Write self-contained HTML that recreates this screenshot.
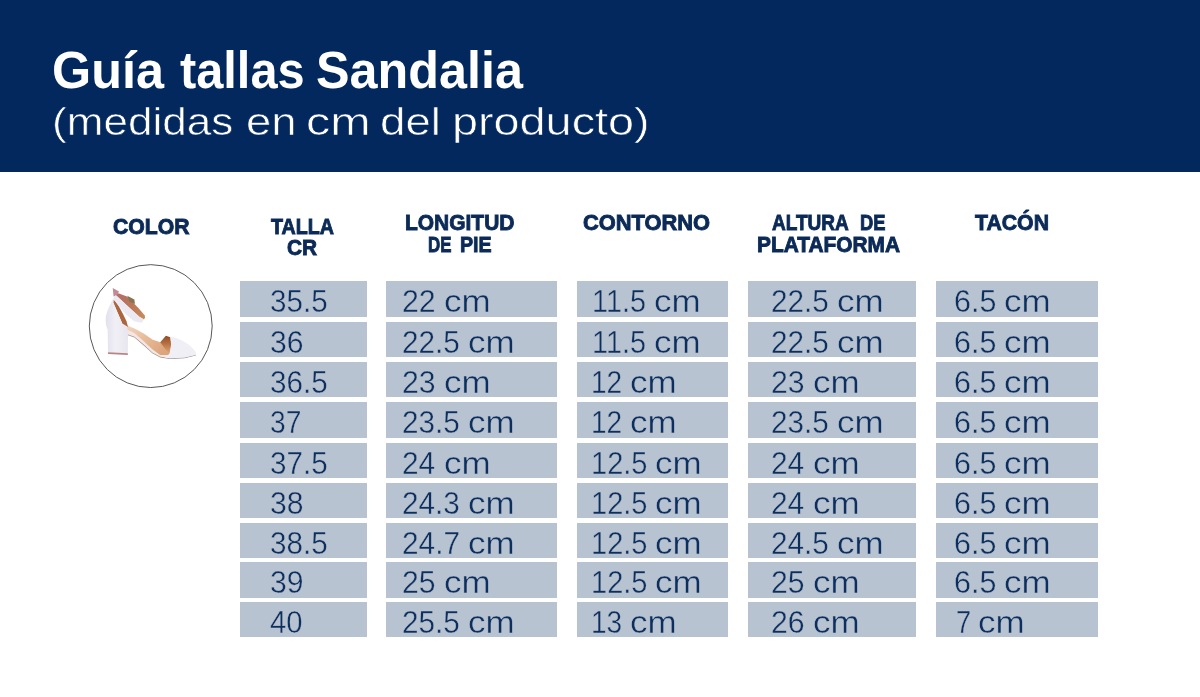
<!DOCTYPE html>
<html><head><meta charset="utf-8"><title>Guía tallas Sandalia</title>
<style>
html,body{margin:0;padding:0;}
body{width:1200px;height:697px;position:relative;overflow:hidden;background:#fff;font-family:"Liberation Sans",sans-serif;}
.banner{position:absolute;left:0;top:0;width:1200px;height:171.6px;background:#03285d;}
.t{position:absolute;white-space:pre;line-height:1;transform-origin:0 0;display:block;}
.c{position:absolute;height:35.6px;background:#b8c3d2;}
svg.shoe{position:absolute;left:0;top:0;}
</style></head><body>
<div class="banner"></div>
<div class="c" style="left:240.2px;top:281.3px;width:126.8px"></div>
<div class="c" style="left:386px;top:281.3px;width:171.2px"></div>
<div class="c" style="left:577px;top:281.3px;width:151.3px"></div>
<div class="c" style="left:747.8px;top:281.3px;width:168.2px"></div>
<div class="c" style="left:935.8px;top:281.3px;width:162.2px"></div>
<div class="c" style="left:240.2px;top:321.8px;width:126.8px"></div>
<div class="c" style="left:386px;top:321.8px;width:171.2px"></div>
<div class="c" style="left:577px;top:321.8px;width:151.3px"></div>
<div class="c" style="left:747.8px;top:321.8px;width:168.2px"></div>
<div class="c" style="left:935.8px;top:321.8px;width:162.2px"></div>
<div class="c" style="left:240.2px;top:361.8px;width:126.8px"></div>
<div class="c" style="left:386px;top:361.8px;width:171.2px"></div>
<div class="c" style="left:577px;top:361.8px;width:151.3px"></div>
<div class="c" style="left:747.8px;top:361.8px;width:168.2px"></div>
<div class="c" style="left:935.8px;top:361.8px;width:162.2px"></div>
<div class="c" style="left:240.2px;top:402.0px;width:126.8px"></div>
<div class="c" style="left:386px;top:402.0px;width:171.2px"></div>
<div class="c" style="left:577px;top:402.0px;width:151.3px"></div>
<div class="c" style="left:747.8px;top:402.0px;width:168.2px"></div>
<div class="c" style="left:935.8px;top:402.0px;width:162.2px"></div>
<div class="c" style="left:240.2px;top:442.9px;width:126.8px"></div>
<div class="c" style="left:386px;top:442.9px;width:171.2px"></div>
<div class="c" style="left:577px;top:442.9px;width:151.3px"></div>
<div class="c" style="left:747.8px;top:442.9px;width:168.2px"></div>
<div class="c" style="left:935.8px;top:442.9px;width:162.2px"></div>
<div class="c" style="left:240.2px;top:482.9px;width:126.8px"></div>
<div class="c" style="left:386px;top:482.9px;width:171.2px"></div>
<div class="c" style="left:577px;top:482.9px;width:151.3px"></div>
<div class="c" style="left:747.8px;top:482.9px;width:168.2px"></div>
<div class="c" style="left:935.8px;top:482.9px;width:162.2px"></div>
<div class="c" style="left:240.2px;top:522.9px;width:126.8px"></div>
<div class="c" style="left:386px;top:522.9px;width:171.2px"></div>
<div class="c" style="left:577px;top:522.9px;width:151.3px"></div>
<div class="c" style="left:747.8px;top:522.9px;width:168.2px"></div>
<div class="c" style="left:935.8px;top:522.9px;width:162.2px"></div>
<div class="c" style="left:240.2px;top:562.1px;width:126.8px"></div>
<div class="c" style="left:386px;top:562.1px;width:171.2px"></div>
<div class="c" style="left:577px;top:562.1px;width:151.3px"></div>
<div class="c" style="left:747.8px;top:562.1px;width:168.2px"></div>
<div class="c" style="left:935.8px;top:562.1px;width:162.2px"></div>
<div class="c" style="left:240.2px;top:601.9px;width:126.8px"></div>
<div class="c" style="left:386px;top:601.9px;width:171.2px"></div>
<div class="c" style="left:577px;top:601.9px;width:151.3px"></div>
<div class="c" style="left:747.8px;top:601.9px;width:168.2px"></div>
<div class="c" style="left:935.8px;top:601.9px;width:162.2px"></div>
<svg class="shoe" width="1200" height="697" viewBox="0 0 1200 697">
<defs>
<filter id="bl" x="-5%" y="-5%" width="110%" height="110%"><feGaussianBlur stdDeviation="0.6"/></filter>
<linearGradient id="gh" x1="0" y1="0" x2="1" y2="0"><stop offset="0" stop-color="#e2e1ec"/><stop offset="0.45" stop-color="#f1f0f6"/><stop offset="1" stop-color="#e7e6ef"/></linearGradient>
<linearGradient id="gi" x1="0" y1="0" x2="1" y2="0.6"><stop offset="0" stop-color="#f2d8c3"/><stop offset="0.6" stop-color="#e6b793"/><stop offset="1" stop-color="#dca57c"/></linearGradient>
<linearGradient id="gs" x1="0" y1="0" x2="0" y2="1"><stop offset="0" stop-color="#8f4a22"/><stop offset="0.55" stop-color="#c07c4e"/><stop offset="1" stop-color="#e0aa84"/></linearGradient>
<linearGradient id="gf" x1="0" y1="0" x2="1" y2="1"><stop offset="0" stop-color="#b46c6c"/><stop offset="0.5" stop-color="#ba7758"/><stop offset="1" stop-color="#c98d5c"/></linearGradient>
</defs>
<circle cx="150.75" cy="326.1" r="61.45" fill="#fff" stroke="#585858" stroke-width="1"/>
<g filter="url(#bl)">
  <!-- sole (pale) with thin dark underside -->
  <path d="M126.5,326 L134.4,330 L143.7,336 L152.3,343 L160.2,349 L170,354 L184.6,356 L195.6,354 L195.8,355.6 L184.6,358.3 L170.2,359.1 L160.2,357.6 L152.3,353.3 L143.7,345.4 L134.4,337.5 L126.5,334.7 Z" fill="#9c8f90"/>
  <path d="M126.5,326 L134.4,330 L143.7,336 L152.3,343 L160.2,349 L170,354 L184.6,356 L195.6,354 L195.5,354.9 L184.6,357.5 L170.2,358.3 L160.2,356.8 L152.3,352.5 L143.7,344.6 L134.4,336.7 L126.5,333.9 Z" fill="#f4e6e2"/>
  <!-- insole tan -->
  <path d="M124.3,324.3 L134.4,328.6 L143.7,333.6 L152.3,339.4 L160.2,342.3 L166,340 L171,346 L169.5,355 L160.2,355 L152.3,349.2 L143.7,341.3 L134.4,332.9 L126.5,329.5 Z" fill="url(#gi)"/>
  <!-- lining of counter -->
  <path d="M113.6,299.5 L115.2,301 L118.8,306.3 L123,314 L126.5,321.2 L128,327 L124,325.5 L122.4,323.8 L113.2,302.4 Z" fill="#ad653d"/>
  <!-- toe opening shadow -->
  <path d="M160.2,342.3 L165.9,335.8 L170.4,337.2 L171.2,343.7 L169.7,353.9 L166,350 Z" fill="url(#gs)"/>
  <!-- counter + heel block -->
  <path d="M113.6,297 C111.5,302 107,310 105.8,317.2 C105.4,322 106,326 107.7,329.8 L108,352.8 L127.8,353.8 L128,334.6 L127.2,326.5 L124,324.5 L122.4,323.8 L118,313.5 L113.4,302.4 Z" fill="url(#gh)"/>
  <!-- heel tip -->
  <path d="M108,352.3 L127.8,353.3 L127.8,354.9 L108.1,354.1 Z" fill="#b98584"/>
  <!-- toe strap -->
  <path d="M170.2,336.7 L173,336.9 C178,338 184,341 188.5,344.5 C192.5,347.8 195.5,351 196.4,353.4 L195.9,354.8 L184.6,357.4 L170.2,358.2 L164.5,357.5 L169.5,353.7 L171.2,345 Z" fill="#f0eff6"/>
  <!-- pink tip of ankle strap -->
  <path d="M112.7,288 L119,291.4 L117,295.2 L113.6,296.6 Z" fill="#c48a92"/>
  <!-- far side inner face (brown) -->
  <path d="M118.3,293.3 L127,296.4 L131,300.4 L138.6,308.2 L144.6,315.3 L145.1,317.6 L144,319.4 L139.3,316.8 L127,305.6 L116,295.3 Z" fill="url(#gf)"/>
  <!-- near side white band -->
  <path d="M116,295.3 L127,305.6 L139.3,316.8 L144,319.4 L141.6,322.8 L134.1,321.3 L125,313.5 L114,300 L113.7,296.6 Z" fill="#ebe9f2"/>
  <!-- buckle -->
  <path d="M127.2,295.8 L134.4,299.6 L134.9,303.9 L129.4,301.4 Z" fill="#857650"/>
</g>
</svg>

<span class="t" style="left:51.65px;top:45px;font-size:51.5px;transform:scaleX(0.9773);color:#fff;font-weight:700;">Guía</span>
<span class="t" style="left:180.21px;top:45px;font-size:51.5px;transform:scaleX(0.9460);color:#fff;font-weight:700;">tallas</span>
<span class="t" style="left:316.22px;top:45px;font-size:51.5px;transform:scaleX(0.9767);color:#fff;font-weight:700;">Sandalia</span>
<span class="t" style="left:52.00px;top:103px;font-size:38.4px;transform:scaleX(1.1487);color:#fff;-webkit-text-stroke:0.6px #03285d;">(medidas</span>
<span class="t" style="left:245.53px;top:103px;font-size:38.4px;transform:scaleX(1.1869);color:#fff;-webkit-text-stroke:0.6px #03285d;">en</span>
<span class="t" style="left:305.81px;top:103px;font-size:38.4px;transform:scaleX(1.2614);color:#fff;-webkit-text-stroke:0.6px #03285d;">cm</span>
<span class="t" style="left:380.04px;top:103px;font-size:38.4px;transform:scaleX(1.1887);color:#fff;-webkit-text-stroke:0.6px #03285d;">del</span>
<span class="t" style="left:451.92px;top:103px;font-size:38.4px;transform:scaleX(1.2184);color:#fff;-webkit-text-stroke:0.6px #03285d;">producto)</span>
<span class="t" style="left:112.54px;top:216px;font-size:22.0px;transform:scaleX(0.9641);color:#0b2a57;font-weight:700;-webkit-text-stroke:0.9px #0b2a57;">COLOR</span>
<span class="t" style="left:271.22px;top:216px;font-size:22.0px;transform:scaleX(0.8934);color:#0b2a57;font-weight:700;-webkit-text-stroke:0.9px #0b2a57;">TALLA</span>
<span class="t" style="left:287.05px;top:237px;font-size:22.0px;transform:scaleX(0.9485);color:#0b2a57;font-weight:700;-webkit-text-stroke:0.9px #0b2a57;">CR</span>
<span class="t" style="left:404.74px;top:212px;font-size:22.0px;transform:scaleX(0.9523);color:#0b2a57;font-weight:700;-webkit-text-stroke:0.9px #0b2a57;">LONGITUD</span>
<span class="t" style="left:427.61px;top:234px;font-size:22.0px;transform:scaleX(0.7666);color:#0b2a57;font-weight:700;-webkit-text-stroke:0.9px #0b2a57;">DE</span>
<span class="t" style="left:459.99px;top:234px;font-size:22.0px;transform:scaleX(0.8926);color:#0b2a57;font-weight:700;-webkit-text-stroke:0.9px #0b2a57;">PIE</span>
<span class="t" style="left:583.03px;top:212px;font-size:22.0px;transform:scaleX(0.9927);color:#0b2a57;font-weight:700;-webkit-text-stroke:0.9px #0b2a57;">CONTORNO</span>
<span class="t" style="left:771.76px;top:212px;font-size:22.0px;transform:scaleX(0.8650);color:#0b2a57;font-weight:700;-webkit-text-stroke:0.9px #0b2a57;">ALTURA</span>
<span class="t" style="left:859.64px;top:212px;font-size:22.0px;transform:scaleX(0.8344);color:#0b2a57;font-weight:700;-webkit-text-stroke:0.9px #0b2a57;">DE</span>
<span class="t" style="left:756.74px;top:234px;font-size:22.0px;transform:scaleX(0.9487);color:#0b2a57;font-weight:700;-webkit-text-stroke:0.9px #0b2a57;">PLATAFORMA</span>
<span class="t" style="left:974.84px;top:212px;font-size:22.0px;transform:scaleX(0.9660);color:#0b2a57;font-weight:700;-webkit-text-stroke:0.9px #0b2a57;">TACÓN</span>
<span class="t" style="left:270.40px;top:287px;font-size:30.8px;transform:scaleX(0.9620);color:#0d2f5d;-webkit-text-stroke:0.4px #b8c3d2;">35.5</span>
<span class="t" style="left:270.37px;top:328px;font-size:30.8px;transform:scaleX(0.9774);color:#0d2f5d;-webkit-text-stroke:0.4px #b8c3d2;">36</span>
<span class="t" style="left:270.40px;top:368px;font-size:30.8px;transform:scaleX(0.9620);color:#0d2f5d;-webkit-text-stroke:0.4px #b8c3d2;">36.5</span>
<span class="t" style="left:270.46px;top:408px;font-size:30.8px;transform:scaleX(0.9165);color:#0d2f5d;-webkit-text-stroke:0.4px #b8c3d2;">37</span>
<span class="t" style="left:270.40px;top:449px;font-size:30.8px;transform:scaleX(0.9620);color:#0d2f5d;-webkit-text-stroke:0.4px #b8c3d2;">37.5</span>
<span class="t" style="left:270.37px;top:489px;font-size:30.8px;transform:scaleX(0.9771);color:#0d2f5d;-webkit-text-stroke:0.4px #b8c3d2;">38</span>
<span class="t" style="left:270.40px;top:529px;font-size:30.8px;transform:scaleX(0.9620);color:#0d2f5d;-webkit-text-stroke:0.4px #b8c3d2;">38.5</span>
<span class="t" style="left:270.37px;top:568px;font-size:30.8px;transform:scaleX(0.9791);color:#0d2f5d;-webkit-text-stroke:0.4px #b8c3d2;">39</span>
<span class="t" style="left:270.32px;top:608px;font-size:30.8px;transform:scaleX(0.9521);color:#0d2f5d;-webkit-text-stroke:0.4px #b8c3d2;">40</span>
<span class="t" style="left:402.25px;top:287px;font-size:30.8px;transform:scaleX(0.9833);color:#0d2f5d;-webkit-text-stroke:0.4px #b8c3d2;">22</span>
<span class="t" style="left:443.64px;top:287px;font-size:30.8px;transform:scaleX(1.1352);color:#0d2f5d;-webkit-text-stroke:0.4px #b8c3d2;">cm</span>
<span class="t" style="left:402.28px;top:328px;font-size:30.8px;transform:scaleX(0.9640);color:#0d2f5d;-webkit-text-stroke:0.4px #b8c3d2;">22.5</span>
<span class="t" style="left:467.64px;top:328px;font-size:30.8px;transform:scaleX(1.1352);color:#0d2f5d;-webkit-text-stroke:0.4px #b8c3d2;">cm</span>
<span class="t" style="left:402.25px;top:368px;font-size:30.8px;transform:scaleX(0.9816);color:#0d2f5d;-webkit-text-stroke:0.4px #b8c3d2;">23</span>
<span class="t" style="left:443.64px;top:368px;font-size:30.8px;transform:scaleX(1.1352);color:#0d2f5d;-webkit-text-stroke:0.4px #b8c3d2;">cm</span>
<span class="t" style="left:402.28px;top:408px;font-size:30.8px;transform:scaleX(0.9640);color:#0d2f5d;-webkit-text-stroke:0.4px #b8c3d2;">23.5</span>
<span class="t" style="left:467.64px;top:408px;font-size:30.8px;transform:scaleX(1.1352);color:#0d2f5d;-webkit-text-stroke:0.4px #b8c3d2;">cm</span>
<span class="t" style="left:402.27px;top:449px;font-size:30.8px;transform:scaleX(0.9698);color:#0d2f5d;-webkit-text-stroke:0.4px #b8c3d2;">24</span>
<span class="t" style="left:443.64px;top:449px;font-size:30.8px;transform:scaleX(1.1352);color:#0d2f5d;-webkit-text-stroke:0.4px #b8c3d2;">cm</span>
<span class="t" style="left:402.28px;top:489px;font-size:30.8px;transform:scaleX(0.9648);color:#0d2f5d;-webkit-text-stroke:0.4px #b8c3d2;">24.3</span>
<span class="t" style="left:467.64px;top:489px;font-size:30.8px;transform:scaleX(1.1352);color:#0d2f5d;-webkit-text-stroke:0.4px #b8c3d2;">cm</span>
<span class="t" style="left:402.27px;top:529px;font-size:30.8px;transform:scaleX(0.9675);color:#0d2f5d;-webkit-text-stroke:0.4px #b8c3d2;">24.7</span>
<span class="t" style="left:467.64px;top:529px;font-size:30.8px;transform:scaleX(1.1352);color:#0d2f5d;-webkit-text-stroke:0.4px #b8c3d2;">cm</span>
<span class="t" style="left:402.26px;top:568px;font-size:30.8px;transform:scaleX(0.9798);color:#0d2f5d;-webkit-text-stroke:0.4px #b8c3d2;">25</span>
<span class="t" style="left:443.64px;top:568px;font-size:30.8px;transform:scaleX(1.1352);color:#0d2f5d;-webkit-text-stroke:0.4px #b8c3d2;">cm</span>
<span class="t" style="left:402.28px;top:608px;font-size:30.8px;transform:scaleX(0.9640);color:#0d2f5d;-webkit-text-stroke:0.4px #b8c3d2;">25.5</span>
<span class="t" style="left:467.64px;top:608px;font-size:30.8px;transform:scaleX(1.1352);color:#0d2f5d;-webkit-text-stroke:0.4px #b8c3d2;">cm</span>
<span class="t" style="left:592.27px;top:287px;font-size:30.8px;transform:scaleX(0.9351);color:#0d2f5d;-webkit-text-stroke:0.4px #b8c3d2;">11.5</span>
<span class="t" style="left:653.84px;top:287px;font-size:30.8px;transform:scaleX(1.1352);color:#0d2f5d;-webkit-text-stroke:0.4px #b8c3d2;">cm</span>
<span class="t" style="left:592.27px;top:328px;font-size:30.8px;transform:scaleX(0.9351);color:#0d2f5d;-webkit-text-stroke:0.4px #b8c3d2;">11.5</span>
<span class="t" style="left:653.84px;top:328px;font-size:30.8px;transform:scaleX(1.1352);color:#0d2f5d;-webkit-text-stroke:0.4px #b8c3d2;">cm</span>
<span class="t" style="left:591.42px;top:368px;font-size:30.8px;transform:scaleX(0.9116);color:#0d2f5d;-webkit-text-stroke:0.4px #b8c3d2;">12</span>
<span class="t" style="left:630.44px;top:368px;font-size:30.8px;transform:scaleX(1.1352);color:#0d2f5d;-webkit-text-stroke:0.4px #b8c3d2;">cm</span>
<span class="t" style="left:591.42px;top:408px;font-size:30.8px;transform:scaleX(0.9116);color:#0d2f5d;-webkit-text-stroke:0.4px #b8c3d2;">12</span>
<span class="t" style="left:630.44px;top:408px;font-size:30.8px;transform:scaleX(1.1352);color:#0d2f5d;-webkit-text-stroke:0.4px #b8c3d2;">cm</span>
<span class="t" style="left:591.35px;top:449px;font-size:30.8px;transform:scaleX(0.9423);color:#0d2f5d;-webkit-text-stroke:0.4px #b8c3d2;">12.5</span>
<span class="t" style="left:655.44px;top:449px;font-size:30.8px;transform:scaleX(1.1352);color:#0d2f5d;-webkit-text-stroke:0.4px #b8c3d2;">cm</span>
<span class="t" style="left:591.35px;top:489px;font-size:30.8px;transform:scaleX(0.9423);color:#0d2f5d;-webkit-text-stroke:0.4px #b8c3d2;">12.5</span>
<span class="t" style="left:655.44px;top:489px;font-size:30.8px;transform:scaleX(1.1352);color:#0d2f5d;-webkit-text-stroke:0.4px #b8c3d2;">cm</span>
<span class="t" style="left:591.35px;top:529px;font-size:30.8px;transform:scaleX(0.9423);color:#0d2f5d;-webkit-text-stroke:0.4px #b8c3d2;">12.5</span>
<span class="t" style="left:655.44px;top:529px;font-size:30.8px;transform:scaleX(1.1352);color:#0d2f5d;-webkit-text-stroke:0.4px #b8c3d2;">cm</span>
<span class="t" style="left:591.35px;top:568px;font-size:30.8px;transform:scaleX(0.9423);color:#0d2f5d;-webkit-text-stroke:0.4px #b8c3d2;">12.5</span>
<span class="t" style="left:655.44px;top:568px;font-size:30.8px;transform:scaleX(1.1352);color:#0d2f5d;-webkit-text-stroke:0.4px #b8c3d2;">cm</span>
<span class="t" style="left:591.43px;top:608px;font-size:30.8px;transform:scaleX(0.9100);color:#0d2f5d;-webkit-text-stroke:0.4px #b8c3d2;">13</span>
<span class="t" style="left:630.44px;top:608px;font-size:30.8px;transform:scaleX(1.1352);color:#0d2f5d;-webkit-text-stroke:0.4px #b8c3d2;">cm</span>
<span class="t" style="left:771.48px;top:287px;font-size:30.8px;transform:scaleX(0.9640);color:#0d2f5d;-webkit-text-stroke:0.4px #b8c3d2;">22.5</span>
<span class="t" style="left:836.84px;top:287px;font-size:30.8px;transform:scaleX(1.1352);color:#0d2f5d;-webkit-text-stroke:0.4px #b8c3d2;">cm</span>
<span class="t" style="left:771.48px;top:328px;font-size:30.8px;transform:scaleX(0.9640);color:#0d2f5d;-webkit-text-stroke:0.4px #b8c3d2;">22.5</span>
<span class="t" style="left:836.84px;top:328px;font-size:30.8px;transform:scaleX(1.1352);color:#0d2f5d;-webkit-text-stroke:0.4px #b8c3d2;">cm</span>
<span class="t" style="left:771.45px;top:368px;font-size:30.8px;transform:scaleX(0.9816);color:#0d2f5d;-webkit-text-stroke:0.4px #b8c3d2;">23</span>
<span class="t" style="left:812.84px;top:368px;font-size:30.8px;transform:scaleX(1.1352);color:#0d2f5d;-webkit-text-stroke:0.4px #b8c3d2;">cm</span>
<span class="t" style="left:771.48px;top:408px;font-size:30.8px;transform:scaleX(0.9640);color:#0d2f5d;-webkit-text-stroke:0.4px #b8c3d2;">23.5</span>
<span class="t" style="left:836.84px;top:408px;font-size:30.8px;transform:scaleX(1.1352);color:#0d2f5d;-webkit-text-stroke:0.4px #b8c3d2;">cm</span>
<span class="t" style="left:771.47px;top:449px;font-size:30.8px;transform:scaleX(0.9698);color:#0d2f5d;-webkit-text-stroke:0.4px #b8c3d2;">24</span>
<span class="t" style="left:812.84px;top:449px;font-size:30.8px;transform:scaleX(1.1352);color:#0d2f5d;-webkit-text-stroke:0.4px #b8c3d2;">cm</span>
<span class="t" style="left:771.47px;top:489px;font-size:30.8px;transform:scaleX(0.9698);color:#0d2f5d;-webkit-text-stroke:0.4px #b8c3d2;">24</span>
<span class="t" style="left:812.84px;top:489px;font-size:30.8px;transform:scaleX(1.1352);color:#0d2f5d;-webkit-text-stroke:0.4px #b8c3d2;">cm</span>
<span class="t" style="left:771.48px;top:529px;font-size:30.8px;transform:scaleX(0.9640);color:#0d2f5d;-webkit-text-stroke:0.4px #b8c3d2;">24.5</span>
<span class="t" style="left:836.84px;top:529px;font-size:30.8px;transform:scaleX(1.1352);color:#0d2f5d;-webkit-text-stroke:0.4px #b8c3d2;">cm</span>
<span class="t" style="left:771.46px;top:568px;font-size:30.8px;transform:scaleX(0.9798);color:#0d2f5d;-webkit-text-stroke:0.4px #b8c3d2;">25</span>
<span class="t" style="left:812.84px;top:568px;font-size:30.8px;transform:scaleX(1.1352);color:#0d2f5d;-webkit-text-stroke:0.4px #b8c3d2;">cm</span>
<span class="t" style="left:771.45px;top:608px;font-size:30.8px;transform:scaleX(0.9810);color:#0d2f5d;-webkit-text-stroke:0.4px #b8c3d2;">26</span>
<span class="t" style="left:812.84px;top:608px;font-size:30.8px;transform:scaleX(1.1352);color:#0d2f5d;-webkit-text-stroke:0.4px #b8c3d2;">cm</span>
<span class="t" style="left:953.71px;top:287px;font-size:30.8px;transform:scaleX(0.9894);color:#0d2f5d;-webkit-text-stroke:0.4px #b8c3d2;">6.5</span>
<span class="t" style="left:1003.74px;top:287px;font-size:30.8px;transform:scaleX(1.1352);color:#0d2f5d;-webkit-text-stroke:0.4px #b8c3d2;">cm</span>
<span class="t" style="left:953.71px;top:328px;font-size:30.8px;transform:scaleX(0.9894);color:#0d2f5d;-webkit-text-stroke:0.4px #b8c3d2;">6.5</span>
<span class="t" style="left:1003.74px;top:328px;font-size:30.8px;transform:scaleX(1.1352);color:#0d2f5d;-webkit-text-stroke:0.4px #b8c3d2;">cm</span>
<span class="t" style="left:953.71px;top:368px;font-size:30.8px;transform:scaleX(0.9894);color:#0d2f5d;-webkit-text-stroke:0.4px #b8c3d2;">6.5</span>
<span class="t" style="left:1003.74px;top:368px;font-size:30.8px;transform:scaleX(1.1352);color:#0d2f5d;-webkit-text-stroke:0.4px #b8c3d2;">cm</span>
<span class="t" style="left:953.71px;top:408px;font-size:30.8px;transform:scaleX(0.9894);color:#0d2f5d;-webkit-text-stroke:0.4px #b8c3d2;">6.5</span>
<span class="t" style="left:1003.74px;top:408px;font-size:30.8px;transform:scaleX(1.1352);color:#0d2f5d;-webkit-text-stroke:0.4px #b8c3d2;">cm</span>
<span class="t" style="left:953.71px;top:449px;font-size:30.8px;transform:scaleX(0.9894);color:#0d2f5d;-webkit-text-stroke:0.4px #b8c3d2;">6.5</span>
<span class="t" style="left:1003.74px;top:449px;font-size:30.8px;transform:scaleX(1.1352);color:#0d2f5d;-webkit-text-stroke:0.4px #b8c3d2;">cm</span>
<span class="t" style="left:953.71px;top:489px;font-size:30.8px;transform:scaleX(0.9894);color:#0d2f5d;-webkit-text-stroke:0.4px #b8c3d2;">6.5</span>
<span class="t" style="left:1003.74px;top:489px;font-size:30.8px;transform:scaleX(1.1352);color:#0d2f5d;-webkit-text-stroke:0.4px #b8c3d2;">cm</span>
<span class="t" style="left:953.71px;top:529px;font-size:30.8px;transform:scaleX(0.9894);color:#0d2f5d;-webkit-text-stroke:0.4px #b8c3d2;">6.5</span>
<span class="t" style="left:1003.74px;top:529px;font-size:30.8px;transform:scaleX(1.1352);color:#0d2f5d;-webkit-text-stroke:0.4px #b8c3d2;">cm</span>
<span class="t" style="left:953.71px;top:568px;font-size:30.8px;transform:scaleX(0.9894);color:#0d2f5d;-webkit-text-stroke:0.4px #b8c3d2;">6.5</span>
<span class="t" style="left:1003.74px;top:568px;font-size:30.8px;transform:scaleX(1.1352);color:#0d2f5d;-webkit-text-stroke:0.4px #b8c3d2;">cm</span>
<span class="t" style="left:955.58px;top:608px;font-size:30.8px;transform:scaleX(0.8835);color:#0d2f5d;-webkit-text-stroke:0.4px #b8c3d2;">7</span>
<span class="t" style="left:978.24px;top:608px;font-size:30.8px;transform:scaleX(1.1352);color:#0d2f5d;-webkit-text-stroke:0.4px #b8c3d2;">cm</span>
</body></html>
